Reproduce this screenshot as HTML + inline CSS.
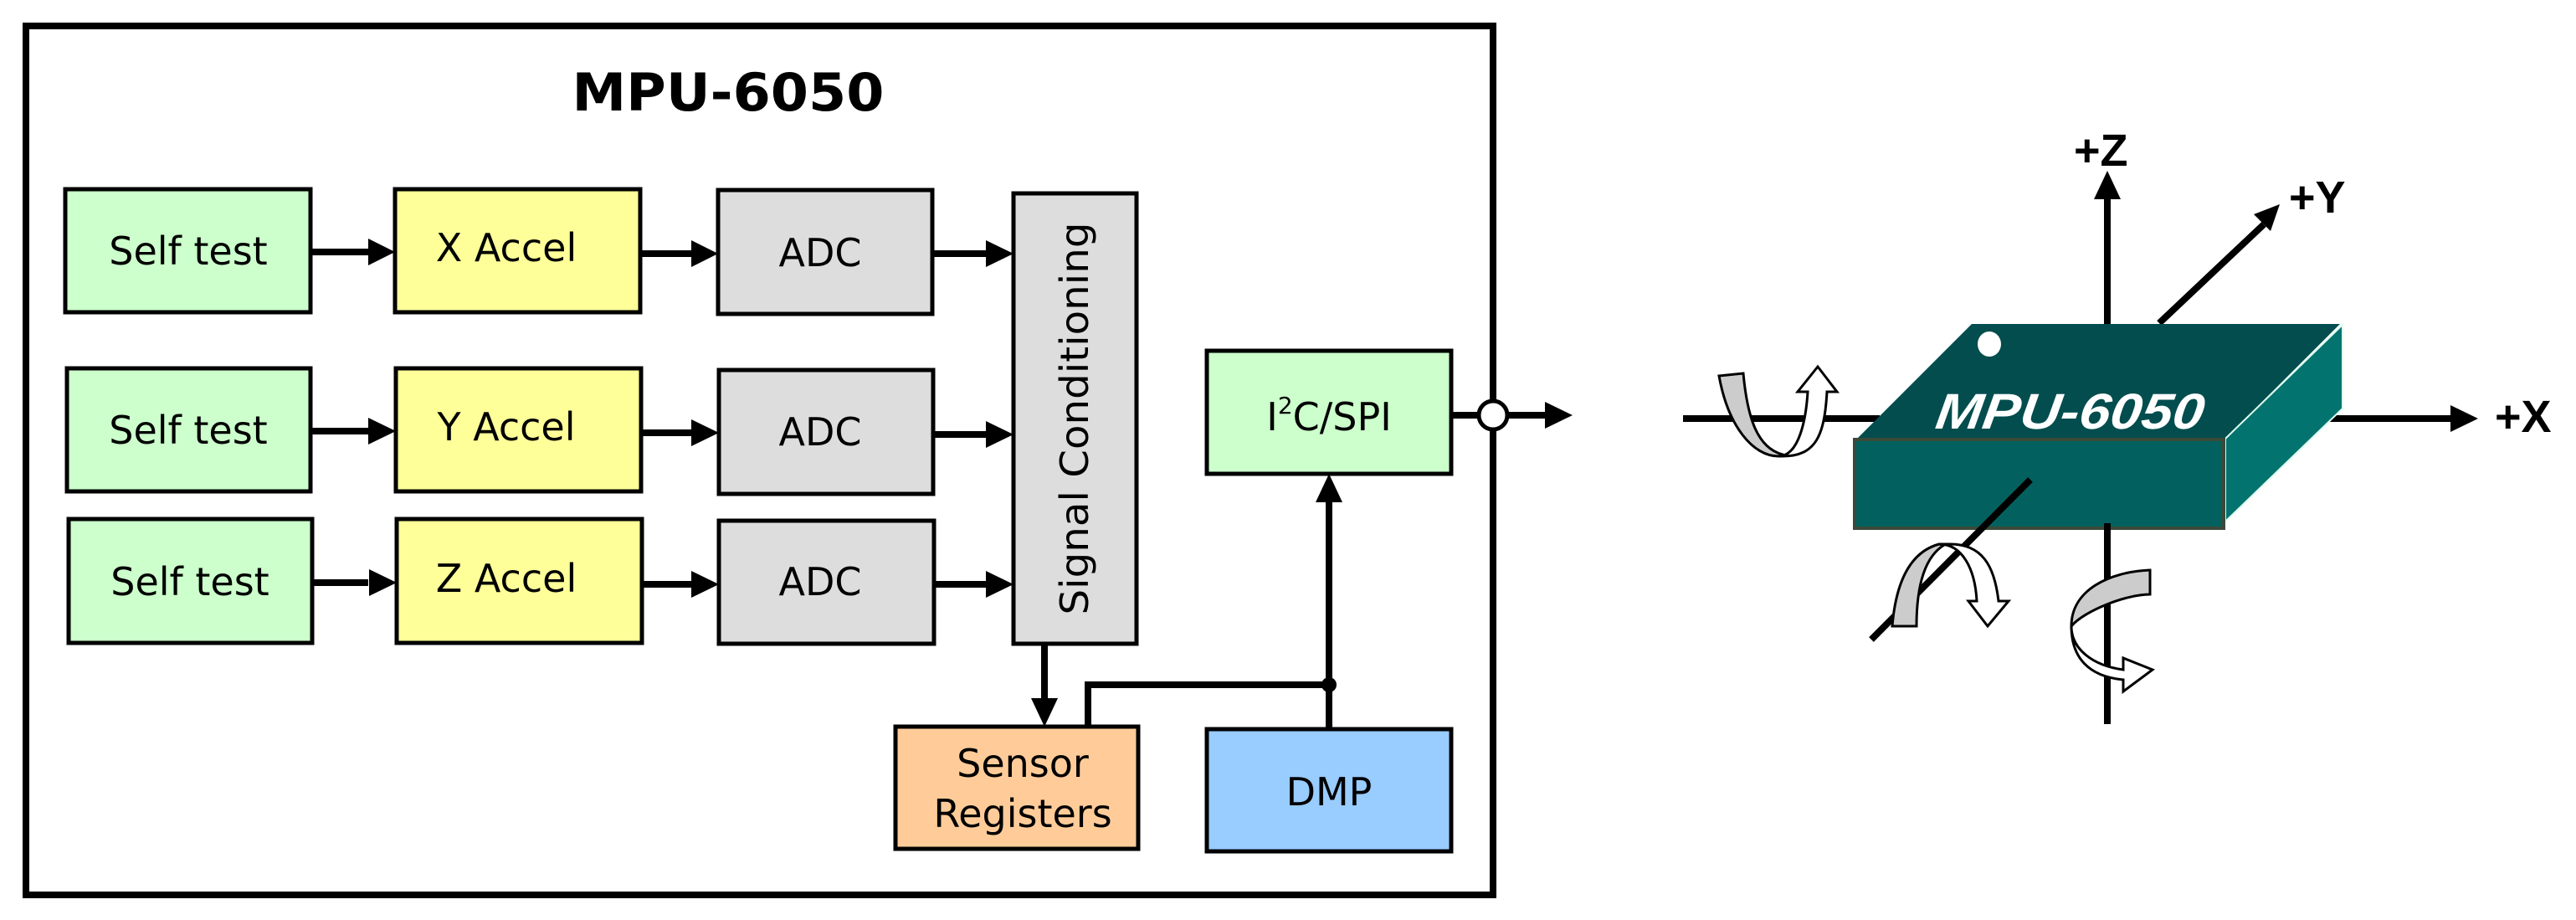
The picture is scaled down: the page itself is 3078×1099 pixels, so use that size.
<!DOCTYPE html>
<html><head><meta charset="utf-8"><style>html,body{margin:0;padding:0;background:#fff}svg{display:block}</style></head>
<body>
<svg width="3078" height="1099" viewBox="0 0 3078 1099" xmlns="http://www.w3.org/2000/svg" font-family="'DejaVu Sans','Liberation Sans',sans-serif">
<rect x="31" y="31" width="1753" height="1038" fill="#fff" stroke="#000" stroke-width="8"/>
<text x="870" y="132" font-size="62" font-weight="bold" text-anchor="middle" textLength="373" lengthAdjust="spacingAndGlyphs">MPU-6050</text>
<g stroke="#000" stroke-width="5" >
<rect x="78" y="226" width="293" height="147" fill="#CCFFCC"/>
<rect x="472" y="226" width="293" height="147" fill="#FFFF99"/>
<rect x="858" y="227" width="256" height="148" fill="#DDDDDD"/>
<rect x="80" y="440" width="291" height="147" fill="#CCFFCC"/>
<rect x="473" y="440" width="293" height="147" fill="#FFFF99"/>
<rect x="859" y="442" width="256" height="148" fill="#DDDDDD"/>
<rect x="82" y="620" width="291" height="148" fill="#CCFFCC"/>
<rect x="474" y="620" width="293" height="148" fill="#FFFF99"/>
<rect x="859" y="622" width="257" height="147" fill="#DDDDDD"/>
<rect x="1211" y="231" width="147" height="538" fill="#DDDDDD"/>
<rect x="1442" y="419" width="292" height="147" fill="#CCFFCC"/>
<rect x="1070" y="868" width="290" height="146" fill="#FFCC99"/>
<rect x="1442" y="871" width="292" height="146" fill="#99CCFF"/>
</g>
<g font-size="46" text-anchor="middle">
<text x="225" y="316">Self test</text>
<text x="605" y="312">X Accel</text>
<text x="980" y="318">ADC</text>
<text x="225" y="530">Self test</text>
<text x="605" y="526">Y Accel</text>
<text x="980" y="532">ADC</text>
<text x="227" y="711">Self test</text>
<text x="605" y="707">Z Accel</text>
<text x="980" y="711">ADC</text>
<text x="1588" y="514">I<tspan font-size="28" dy="-20">2</tspan><tspan dy="20">C/SPI</tspan></text>
<text x="1222" y="928">Sensor</text>
<text x="1222" y="988">Registers</text>
<text x="1588" y="962">DMP</text>
<text transform="translate(1300,500) rotate(-90)" text-anchor="middle" textLength="469" lengthAdjust="spacingAndGlyphs">Signal Conditioning</text>
</g>
<g stroke="#000" stroke-width="8" fill="none">
<line x1="371" y1="301" x2="440" y2="301"/><line x1="765" y1="303" x2="830" y2="303"/><line x1="1114" y1="303" x2="1180" y2="303"/>
<line x1="371" y1="515" x2="440" y2="515"/><line x1="766" y1="517" x2="830" y2="517"/><line x1="1115" y1="519" x2="1180" y2="519"/>
<line x1="373" y1="696" x2="440" y2="696"/><line x1="767" y1="698" x2="830" y2="698"/><line x1="1116" y1="698" x2="1180" y2="698"/>
<line x1="1248" y1="769" x2="1248" y2="836"/>
<polyline points="1300,868 1300,818 1588,818"/>
<line x1="1588" y1="871" x2="1588" y2="598"/>
<line x1="1734" y1="496" x2="1766" y2="496"/><line x1="1802" y1="496" x2="1850" y2="496"/>
</g>
<g fill="#000">
<path d="M440 285 L472 301 L440 317z"/><path d="M826 287 L858 303 L826 319z"/><path d="M1178 287 L1211 303 L1178 319z"/>
<path d="M440 499 L473 515 L440 531z"/><path d="M826 501 L859 517 L826 533z"/><path d="M1178 503 L1211 519 L1178 535z"/>
<path d="M441 680 L474 696 L441 712z"/><path d="M826 682 L859 698 L826 714z"/><path d="M1178 682 L1211 698 L1178 714z"/>
<path d="M1232 834 L1248 868 L1264 834z"/>
<path d="M1572 600 L1588 566 L1604 600z"/>
<path d="M1846 480 L1879 496 L1846 512z"/>
<circle cx="1588" cy="818" r="9"/>
</g>
<ellipse cx="1784" cy="496" rx="17" ry="17" fill="#fff" stroke="#000" stroke-width="5"/>

<g stroke="#000" stroke-width="8" fill="none">
<line x1="2518" y1="447" x2="2518" y2="235"/>
<line x1="2580" y1="386" x2="2705" y2="268"/>
<line x1="2011" y1="500" x2="2246" y2="500"/>
<line x1="2717" y1="500" x2="2935" y2="500"/>
</g>
<g fill="#000">
<path d="M2502 238 L2518 204 L2534 238z"/>
<path d="M2693 256 L2724 244 L2713 276z"/>
<path d="M2928 484 L2961 500 L2928 516z"/>
</g>
<g font-size="54" font-weight="bold" font-family="'Liberation Sans',sans-serif">
<text x="2478" y="198">+Z</text>
<text x="2735" y="254">+Y</text>
<text x="2981" y="516">+X</text>
</g>
<polygon points="2356,387 2796,387 2659,524 2219,524" fill="#034D4E"/>
<polygon points="2659,524 2799,388 2799,488 2659,623" fill="#037370" stroke="#dfe" stroke-width="2"/>
<rect x="2216" y="525" width="441" height="106" fill="#02615F" stroke="#3a4a38" stroke-width="4"/>
<ellipse cx="2377" cy="411" rx="14" ry="15" fill="#fff"/>
<text x="2473" y="512" font-size="60" font-weight="bold" font-style="italic" fill="#fff" text-anchor="middle" font-family="'Liberation Sans',sans-serif" textLength="320" lengthAdjust="spacingAndGlyphs" transform="skewX(-8) translate(70,0)">MPU-6050</text>
<g stroke="#000" stroke-width="8" fill="none">
<line x1="2426" y1="573" x2="2236" y2="764"/>
<line x1="2518" y1="625" x2="2518" y2="865"/>
</g>
<g stroke="#000" stroke-width="3">
<path d="M2054 449 L2083 446 C2088 500 2100 535 2130 543 L2125 545 C2095 545 2065 510 2054 449z" fill="#ccc"/>
<path d="M2125 545 C2150 545 2158 500 2160 468 L2148 468 L2172 438 L2195 468 L2183 468 C2180 520 2170 545 2130 545z" fill="#fff"/>
<path d="M2261 748 L2290 748 C2290 700 2300 665 2323 651 L2317 650 C2280 660 2265 700 2261 748z" fill="#ccc"/>
<path d="M2317 650 C2345 650 2360 680 2362 718 L2352 718 L2375 748 L2400 718 L2388 718 C2383 675 2368 650 2330 650z" fill="#fff"/>
<path d="M2569 681 L2569 710 C2540 710 2490 730 2475 748 C2475 705 2520 683 2569 681z" fill="#ccc"/>
<path d="M2475 748 C2475 775 2500 795 2537 800 L2537 786 L2572 800 L2537 826 L2537 812 C2495 808 2475 785 2475 748z" fill="#fff"/>
</g>
</svg>
</body></html>
